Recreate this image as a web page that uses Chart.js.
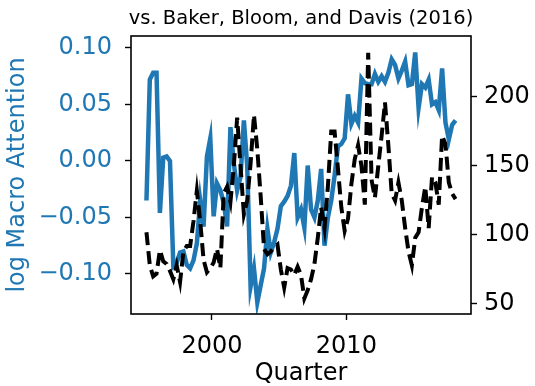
<!DOCTYPE html>
<html>
<head>
<meta charset="utf-8">
<script src="https://cdn.jsdelivr.net/npm/chart.js@4"></script>
<style>
  html, body { margin: 0; padding: 0; background: #fff; }
  #wrap { width: 535px; height: 386px; }
</style>
</head>
<body>
<div id="wrap"><canvas id="chart" width="535" height="386"></canvas></div>
<script>
// quarterly series, 1995Q1 .. 2018Q1 (plotted at mid-quarter)
const firstQuarter = 1995.125;

const macroAttention = [
  -0.035, 0.072, 0.078, 0.078, -0.046, 0.003, 0.004, 0.000, -0.093, -0.090,
  -0.081, -0.080, -0.092, -0.095, -0.088, -0.073, -0.035, -0.058, 0.004, 0.020,
  -0.049, -0.020, -0.026, -0.037, -0.058, 0.030, -0.002, -0.026, -0.014, 0.036,
  -0.005, -0.111, -0.095, -0.125, -0.110, -0.095, -0.060, -0.081, -0.072, -0.060,
  -0.040, -0.036, -0.031, -0.022, 0.007, -0.050, -0.043, -0.059, -0.004, -0.043,
  -0.050, -0.035, -0.007, -0.075, -0.050, -0.035, -0.013, 0.013, 0.015, 0.020,
  0.059, 0.033, 0.040, 0.034, 0.073, 0.069, 0.068, 0.068, 0.077, 0.070,
  0.075, 0.070, 0.078, 0.090, 0.085, 0.073, 0.080, 0.088, 0.067, 0.068,
  0.096, 0.047, 0.068, 0.065, 0.072, 0.050, 0.052, 0.045, 0.082, 0.034,
  0.019, 0.032, 0.036
];

const bbdIndex = [
  102, 78, 70, 72, 89, 81, 79, 74, 68, 78,
  66, 88, 92, 92, 110, 132, 110, 82, 73, 76,
  80, 90, 76, 130, 135, 124, 150, 185, 150, 115,
  125, 152, 187, 162, 128, 90, 86, 88, 91, 93,
  75, 62, 76, 75, 71, 77, 71, 54, 60, 68,
  79, 98, 120, 105, 135, 175, 175, 148, 120, 103,
  112, 137, 155, 165, 150, 122, 232, 140, 127, 150,
  172, 196, 165, 130, 125, 138, 125, 105, 88, 78,
  98, 102, 120, 135, 105, 142, 138, 122, 172, 166,
  138, 130, 126
];

const xTicks = [2000, 2010];
const leftTicks = [-0.10, -0.05, 0.00, 0.05, 0.10];
const rightTicks = [50, 100, 150, 200];

const titleText = "vs. Baker, Bloom, and Davis (2016)";
const blue = "#1f77b4";
const font = "DejaVu Sans";

function toPoints(values) {
  return values.map((v, i) => ({ x: firstQuarter + i * 0.25, y: v }));
}

function fixedTicks(list) {
  return function (axis) {
    axis.ticks = list.map((v) => ({ value: v }));
  };
}

// frame around the plot + title above it
const framePlugin = {
  id: "frame",
  afterDraw(chart) {
    const { ctx, chartArea: a } = chart;
    ctx.save();
    ctx.strokeStyle = "#000";
    ctx.lineWidth = 1.6;
    ctx.strokeRect(a.left, a.top, a.right - a.left, a.bottom - a.top);
    ctx.fillStyle = "#000";
    ctx.font = "19.5px '" + font + "'";
    ctx.textAlign = "center";
    ctx.textBaseline = "alphabetic";
    ctx.fillText(titleText, (a.left + a.right) / 2, 24);
    ctx.restore();
  }
};

const tickGrid = {
  display: true,
  drawOnChartArea: false,
  drawTicks: true,
  tickLength: 6,
  tickWidth: 1.4,
  color: "#000"
};

new Chart(document.getElementById("chart"), {
  type: "line",
  data: {
    datasets: [
      {
        label: "BBD",
        data: toPoints(bbdIndex),
        yAxisID: "yRight",
        borderColor: "#000",
        borderWidth: 4,
        borderDash: [13, 6],
        pointRadius: 0,
        tension: 0,
        order: 0
      },
      {
        label: "log Macro Attention",
        data: toPoints(macroAttention),
        yAxisID: "yLeft",
        borderColor: blue,
        borderWidth: 4.5,
        pointRadius: 0,
        tension: 0,
        order: 1
      }
    ]
  },
  options: {
    responsive: false,
    animation: false,
    layout: { padding: { top: 36, left: 0, right: 0, bottom: 0 } },
    plugins: {
      legend: { display: false },
      tooltip: { enabled: false }
    },
    scales: {
      x: {
        type: "linear",
        min: 1993.975,
        max: 2019.275,
        afterBuildTicks: fixedTicks(xTicks),
        afterFit(axis) { axis.height = 72; },
        grid: tickGrid,
        border: { display: false },
        ticks: {
          color: "#000",
          font: { family: font, size: 24 },
          padding: 12,
          maxRotation: 0,
          callback: (v) => String(v)
        },
        title: {
          display: true,
          text: "Quarter",
          color: "#000",
          font: { family: font, size: 24, lineHeight: 1 },
          padding: { top: 0, bottom: 0 }
        }
      },
      yLeft: {
        type: "linear",
        position: "left",
        min: -0.1354,
        max: 0.1106,
        afterBuildTicks: fixedTicks(leftTicks),
        afterFit(axis) { axis.width = 131; },
        grid: tickGrid,
        border: { display: false },
        ticks: {
          color: blue,
          font: { family: font, size: 24 },
          padding: 13,
          callback: (v) => v.toFixed(2).replace("-", "\u2212")
        },
        title: {
          display: true,
          text: "log Macro Attention",
          color: blue,
          font: { family: font, size: 24, lineHeight: 1 },
          padding: { top: 6, bottom: 0 }
        }
      },
      yRight: {
        type: "linear",
        position: "right",
        min: 42.75,
        max: 244.2,
        afterBuildTicks: fixedTicks(rightTicks),
        afterFit(axis) { axis.width = 64; },
        grid: tickGrid,
        border: { display: false },
        ticks: {
          color: "#000",
          font: { family: font, size: 24 },
          padding: 7,
          callback: (v) => String(v)
        }
      }
    }
  },
  plugins: [framePlugin]
});
</script>
</body>
</html>
